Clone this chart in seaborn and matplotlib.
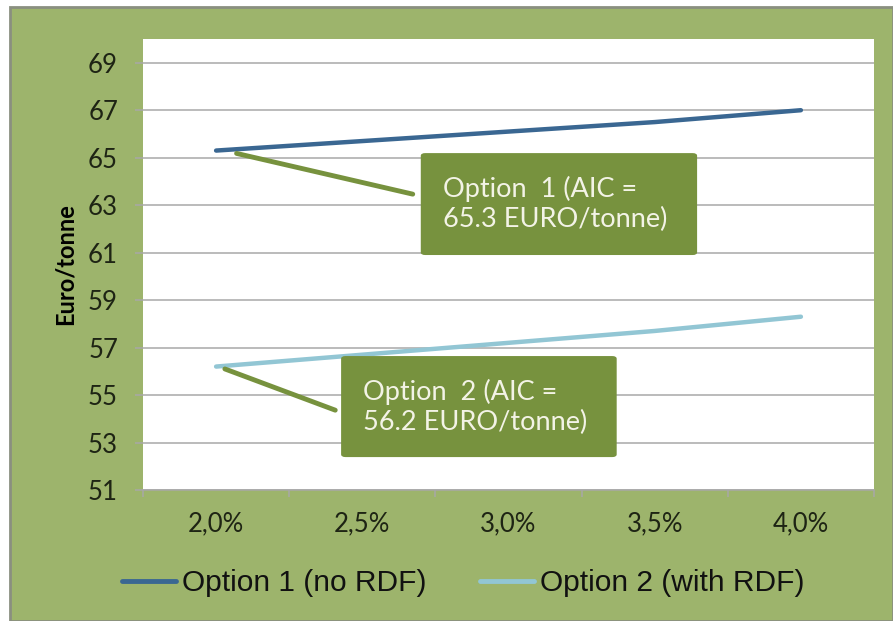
import matplotlib
matplotlib.use("Agg")
import matplotlib.pyplot as plt
from matplotlib.patches import Rectangle, FancyBboxPatch
from matplotlib.lines import Line2D
import numpy as np
import pandas as pd
import seaborn as sns

# ---- data -------------------------------------------------------------
rates = ["2,0%", "2,5%", "3,0%", "3,5%", "4,0%"]
option1 = [65.3, 65.7, 66.1, 66.5, 67.0]
option2 = [56.2, 56.7, 57.2, 57.7, 58.3]
series_names = ["Option 1 (no RDF)", "Option 2 (with RDF)"]
callouts = ["Option  1 (AIC =\n65.3 EURO/tonne)", "Option  2 (AIC =\n56.2 EURO/tonne)"]
y_ticks = list(range(51, 70, 2))

df = pd.DataFrame({
    "rate": rates * 2,
    "value": option1 + option2,
    "series": [series_names[0]] * len(rates) + [series_names[1]] * len(rates),
})

# ---- style ------------------------------------------------------------
sns.set_theme(style="white")
plt.rcParams["font.family"] = ["Lato", "DejaVu Sans"]

GREEN_BG = "#9DB46C"
BOX_GREEN = "#77923E"
LINE1 = "#3A6792"
LINE2 = "#92C6D4"
GRID = "#A8A8A8"
TXT = "#1E2414"

fig = plt.figure(figsize=(8.93, 6.21), dpi=100)
fig.patch.set_facecolor("white")
W, H = 893, 621
# green frame with a faint grey rim
fig.patches.append(Rectangle((10 / W, 0), 1 - 10 / W, 1 - 7 / H, transform=fig.transFigure,
                             facecolor=GREEN_BG, edgecolor="#8A8F80", linewidth=2, zorder=-5))

ax = fig.add_axes([143 / W, 1 - 490 / H, (874 - 143) / W, (490 - 39) / H])
ax.set_facecolor("white")

sns.lineplot(data=df, x="rate", y="value", hue="series", palette=[LINE1, LINE2],
             linewidth=3.2, ax=ax, legend=False, sort=False, zorder=3)

ax.set_xlim(-0.5, len(rates) - 0.5)
ax.set_ylim(51, 70)
ax.set_yticks(y_ticks)
ax.set_yticklabels([str(t) for t in y_ticks])
ax.set_xticks(range(len(rates)))
ax.set_xticklabels(rates)
ax.set_xticks(np.arange(-0.5, len(rates), 1.0), minor=True)

for t in y_ticks:
    ax.axhline(t, color=GRID, linewidth=1.1, zorder=1)

for s in ["top", "right", "left"]:
    ax.spines[s].set_visible(False)
ax.spines["bottom"].set_color(GRID)
ax.spines["bottom"].set_linewidth(1.1)

ax.tick_params(axis="y", which="major", left=True, length=6, width=1.1, color=GRID,
               pad=12, labelsize=18.5, labelcolor=TXT)
ax.tick_params(axis="x", which="major", bottom=False, length=0, pad=15,
               labelsize=18.5, labelcolor=TXT)
ax.tick_params(axis="x", which="minor", bottom=True, length=5, width=1.1, color=GRID)

ax.set_xlabel("")
ax.set_ylabel("Euro/tonne", fontsize=17, fontweight="bold", color="black", labelpad=8)

# ---- call-out boxes ---------------------------------------------------
def callout(text, start_x, start_y, box, tip):
    x0, y0, x1, y1 = box
    ax.add_patch(FancyBboxPatch((x0, y0), x1 - x0, y1 - y0,
                                boxstyle="round,pad=0,rounding_size=0.006",
                                transform=ax.transAxes, facecolor=BOX_GREEN,
                                edgecolor="none", zorder=5))
    ax.text(x0 + 0.03, (y0 + y1) / 2, text, transform=ax.transAxes, ha="left",
            va="center", fontsize=19.5, color="#F3F3E6", linespacing=1.25, zorder=6)
    ax.annotate("", xy=(start_x, start_y), xycoords="data",
                xytext=tip, textcoords="axes fraction",
                arrowprops=dict(arrowstyle="-", color=BOX_GREEN, lw=3.5,
                                shrinkA=0, shrinkB=0), zorder=4)

callout(callouts[0], 0.14, option1[0] - 0.12, (0.380, 0.521, 0.758, 0.747), (0.369, 0.656))
callout(callouts[1], 0.06, option2[0] - 0.1, (0.271, 0.073, 0.648, 0.297), (0.263, 0.177))

# ---- legend -----------------------------------------------------------
handles = [Line2D([0], [0], color=LINE1, lw=3.5), Line2D([0], [0], color=LINE2, lw=3.5)]
leg = fig.legend(handles, series_names, loc="center", bbox_to_anchor=(463.5 / W, 1 - 583 / H),
                 ncol=2, frameon=False, handlelength=1.8, handletextpad=0.2, columnspacing=1.8,
                 prop={"family": ["Liberation Sans", "DejaVu Sans"], "size": 21.5})
for t in leg.get_texts():
    t.set_color("#111111")

fig.savefig("out.png", dpi=100, facecolor=fig.get_facecolor())
